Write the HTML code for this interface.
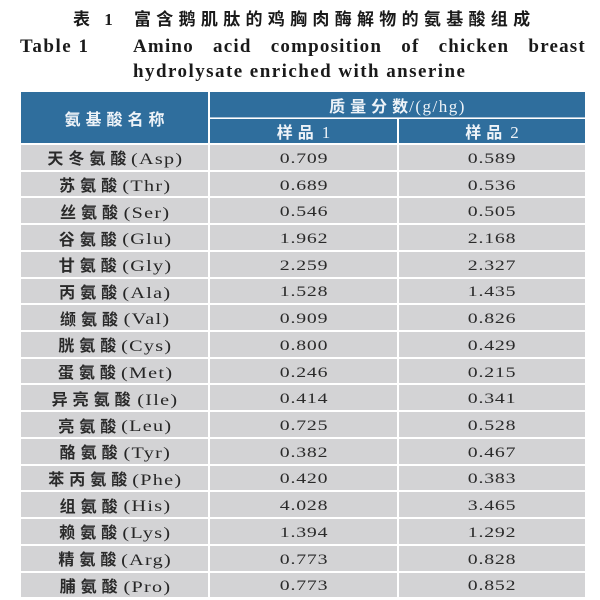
<!DOCTYPE html>
<html>
<head>
<meta charset="utf-8">
<style>
  html,body{margin:0;padding:0;background:#fff;}
  body{width:600px;height:600px;position:relative;overflow:hidden;
    font-family:"Liberation Serif","Noto Sans CJK SC",serif;color:#222;}
  .abs{position:absolute;}
  .t1{left:0;top:10px;width:600px;height:20px;line-height:20px;font-family:"Liberation Serif","Noto Sans CJK SC",sans-serif;font-weight:bold;font-size:17px;color:#1a1a1a;white-space:nowrap;}
  .t1 .lab{position:absolute;left:73px;letter-spacing:5px;}
  .t1 .cn{position:absolute;left:134px;letter-spacing:5.3px;}
  .en{font-family:"Liberation Serif",serif;font-weight:bold;font-size:19px;line-height:21px;color:#1a1a1a;white-space:nowrap;}
  .l2a{left:20px;top:35.5px;letter-spacing:1.5px;}
  .l2b{left:133px;top:35.5px;width:453px;display:flex;justify-content:space-between;letter-spacing:1.2px;}
  .l3{left:133px;top:60.5px;letter-spacing:1.45px;}
  .hdr{background:#2f6e9d;color:#eef3f8;font-family:"Liberation Serif","Noto Sans CJK SC",sans-serif;font-weight:bold;font-size:16px;display:flex;align-items:center;justify-content:center;white-space:nowrap;}
  .hdr i{font-style:normal;font-weight:normal;position:relative;top:2px;font-size:17px;}
  .rows{position:absolute;left:21px;top:145px;width:564px;}
  .row{height:24.73px;margin-bottom:2px;display:flex;}
  .c{background:#d3d3d5;display:flex;align-items:center;justify-content:center;height:100%;white-space:nowrap;line-height:1;}
  .c1{width:187px;margin-right:2px;padding-left:2px;box-sizing:border-box;color:#2a2a2a;}
  .c1 b{font-family:"Noto Sans CJK SC",sans-serif;font-weight:bold;font-size:16px;letter-spacing:5px;color:#2a2a2a;}
  .c1 span{display:inline-block;position:relative;top:2.5px;font-size:15.5px;letter-spacing:1px;transform:scaleX(1.3);margin:0 6px;color:#262626;}
  .c2,.c3{padding-top:4px;box-sizing:border-box;color:#2a2a2a;}
  .c2{width:187px;margin-right:2px;}
  .c3{width:186px;}
  .c2 span,.c3 span{display:inline-block;font-size:15px;letter-spacing:0.6px;padding-left:0.6px;transform:scaleX(1.32);}
</style>
</head>
<body>
  <div class="abs t1"><span class="lab">表 1</span><span class="cn">富含鹅肌肽的鸡胸肉酶解物的氨基酸组成</span></div>
  <div class="abs en l2a">Table 1</div>
  <div class="abs en l2b"><span>Amino</span><span>acid</span><span>composition</span><span>of</span><span>chicken</span><span>breast</span></div>
  <div class="abs en l3">hydrolysate enriched with anserine</div>

  <!-- header -->
  <div class="abs hdr" style="left:21px;top:92px;width:187px;height:51px;letter-spacing:5px;padding-left:5px;box-sizing:border-box;">氨基酸名称</div>
  <div class="abs hdr" style="left:210px;top:92px;width:375px;height:25.3px;"><span style="letter-spacing:5px;">质量分数</span><i style="letter-spacing:1.5px;margin-left:-4px;">/(g/hg)</i></div>
  <div class="abs" style="left:210px;top:117.3px;width:375px;height:1.2px;background:#a9c1d6;"></div>
  <div class="abs hdr" style="left:210px;top:118.5px;width:187px;height:24.5px;"><span style="letter-spacing:5px;">样品</span><i style="margin-left:3px;">1</i></div>
  <div class="abs hdr" style="left:399px;top:118.5px;width:186px;height:24.5px;"><span style="letter-spacing:5px;">样品</span><i style="margin-left:3px;">2</i></div>

  <div class="rows">
    <div class="row"><div class="c c1"><b>天冬氨酸</b><span>(Asp)</span></div><div class="c c2"><span>0.709</span></div><div class="c c3"><span>0.589</span></div></div>
    <div class="row"><div class="c c1"><b>苏氨酸</b><span>(Thr)</span></div><div class="c c2"><span>0.689</span></div><div class="c c3"><span>0.536</span></div></div>
    <div class="row"><div class="c c1"><b>丝氨酸</b><span>(Ser)</span></div><div class="c c2"><span>0.546</span></div><div class="c c3"><span>0.505</span></div></div>
    <div class="row"><div class="c c1"><b>谷氨酸</b><span>(Glu)</span></div><div class="c c2"><span>1.962</span></div><div class="c c3"><span>2.168</span></div></div>
    <div class="row"><div class="c c1"><b>甘氨酸</b><span>(Gly)</span></div><div class="c c2"><span>2.259</span></div><div class="c c3"><span>2.327</span></div></div>
    <div class="row"><div class="c c1"><b>丙氨酸</b><span>(Ala)</span></div><div class="c c2"><span>1.528</span></div><div class="c c3"><span>1.435</span></div></div>
    <div class="row"><div class="c c1"><b>缬氨酸</b><span>(Val)</span></div><div class="c c2"><span>0.909</span></div><div class="c c3"><span>0.826</span></div></div>
    <div class="row"><div class="c c1"><b>胱氨酸</b><span>(Cys)</span></div><div class="c c2"><span>0.800</span></div><div class="c c3"><span>0.429</span></div></div>
    <div class="row"><div class="c c1"><b>蛋氨酸</b><span>(Met)</span></div><div class="c c2"><span>0.246</span></div><div class="c c3"><span>0.215</span></div></div>
    <div class="row"><div class="c c1"><b>异亮氨酸</b><span>(Ile)</span></div><div class="c c2"><span>0.414</span></div><div class="c c3"><span>0.341</span></div></div>
    <div class="row"><div class="c c1"><b>亮氨酸</b><span>(Leu)</span></div><div class="c c2"><span>0.725</span></div><div class="c c3"><span>0.528</span></div></div>
    <div class="row"><div class="c c1"><b>酪氨酸</b><span>(Tyr)</span></div><div class="c c2"><span>0.382</span></div><div class="c c3"><span>0.467</span></div></div>
    <div class="row"><div class="c c1"><b>苯丙氨酸</b><span>(Phe)</span></div><div class="c c2"><span>0.420</span></div><div class="c c3"><span>0.383</span></div></div>
    <div class="row"><div class="c c1"><b>组氨酸</b><span>(His)</span></div><div class="c c2"><span>4.028</span></div><div class="c c3"><span>3.465</span></div></div>
    <div class="row"><div class="c c1"><b>赖氨酸</b><span>(Lys)</span></div><div class="c c2"><span>1.394</span></div><div class="c c3"><span>1.292</span></div></div>
    <div class="row"><div class="c c1"><b>精氨酸</b><span>(Arg)</span></div><div class="c c2"><span>0.773</span></div><div class="c c3"><span>0.828</span></div></div>
    <div class="row"><div class="c c1"><b>脯氨酸</b><span>(Pro)</span></div><div class="c c2"><span>0.773</span></div><div class="c c3"><span>0.852</span></div></div>
  </div>
</body>
</html>
